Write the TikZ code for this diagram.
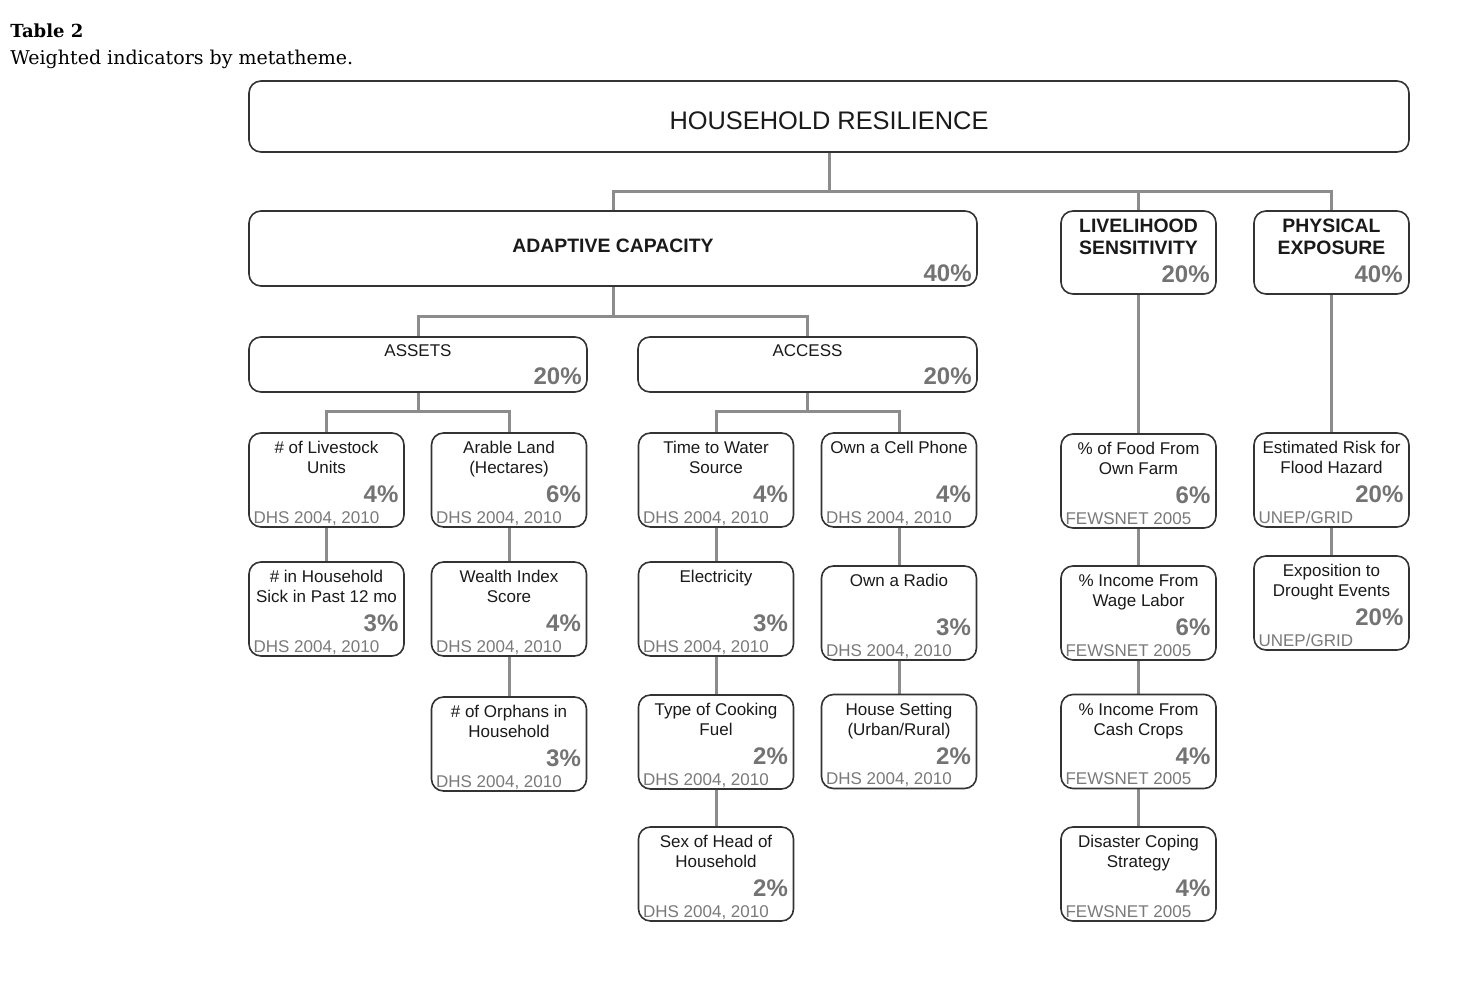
\documentclass[tikz,border=0pt]{standalone}
\usepackage{fontspec}
\setmainfont{Liberation Sans}
\newfontfamily\capfont{DejaVu Serif}
\usetikzlibrary{backgrounds}
\definecolor{boxc}{HTML}{333333}
\definecolor{connc}{HTML}{8C8C8C}
\definecolor{txtc}{HTML}{1A1A1A}
\definecolor{pctc}{HTML}{737373}
\definecolor{srcc}{HTML}{7A7A7A}
\tikzset{
  box/.style={draw=boxc, line width=0.8pt, rounded corners=6pt, fill=white, inner sep=0pt},
  sbox/.style={box, minimum width=77.5pt, minimum height=47pt},
  conn/.style={draw=connc, line width=1.5pt},
  ttl/.style={font=\fontsize{8.5}{10}\selectfont, text=txtc, anchor=base, inner sep=0pt},
  hdr/.style={font=\bfseries\fontsize{9.7}{11}\selectfont, text=txtc, anchor=base, inner sep=0pt},
  pct/.style={font=\bfseries\fontsize{12}{14}\selectfont, text=pctc, anchor=base east, inner sep=0pt},
  src/.style={font=\fontsize{8.5}{10}\selectfont, text=srcc, anchor=base west, inner sep=0pt},
}
% indicator box: name, cx, cy, line1, line2, pct, source
\newcommand\indbox[7]{%
  \node[sbox] (#1) at (#2,#3) {};
  \node[ttl] (#1-a) at ([yshift=-10.8pt]#1.north) {#4};
  \if\relax\detokenize{#5}\relax\else
    \node[ttl] (#1-b) at ([yshift=-20.8pt]#1.north) {#5};
  \fi
  \node[pct] (#1-p) at ([xshift=-3pt,yshift=12.5pt]#1.south east) {#6};
  \node[src] (#1-s) at ([xshift=2.5pt,yshift=2.2pt]#1.south west) {#7};
}
\begin{document}
\begin{tikzpicture}[x=0.5pt,y=-0.5pt]
\useasboundingbox (0,0) rectangle (1480,994);
% caption
\node[anchor=base west, inner sep=0pt, font=\capfont\bfseries\fontsize{9}{11}\selectfont] (cap1) at (10,38) {Table 2};
\node[anchor=base west, inner sep=0pt, font=\capfont\fontsize{9.5}{11}\selectfont] (cap2) at (10,65) {Weighted indicators by metatheme.};

% top
\node[box, minimum width=580pt, minimum height=35.5pt] (HR) at (829,116.5) {};
\node[anchor=base, inner sep=0pt, text=txtc, font=\fontsize{12.7}{14}\selectfont] (HR-t) at (829,130) {HOUSEHOLD RESILIENCE};

% metathemes
\node[box, minimum width=364pt, minimum height=37.5pt] (AC) at (613,248.5) {};
\node[hdr] (AC-t) at (613,253) {ADAPTIVE CAPACITY};
\node[pct] (AC-p) at (972,282) {40\%};

\node[box, minimum width=77.5pt, minimum height=41.5pt] (LS) at (1138.5,252.5) {};
\node[hdr] (LS-a) at (1138.5,233) {LIVELIHOOD};
\node[hdr] (LS-b) at (1138.5,255) {SENSITIVITY};
\node[pct] (LS-p) at (1210,283) {20\%};

\node[box, minimum width=77.5pt, minimum height=41.5pt] (PE) at (1331.5,252.5) {};
\node[hdr] (PE-a) at (1331.5,233) {PHYSICAL};
\node[hdr] (PE-b) at (1331.5,255) {EXPOSURE};
\node[pct] (PE-p) at (1403,283) {40\%};

% themes
\node[box, minimum width=169pt, minimum height=27.5pt] (AS) at (418,364.5) {};
\node[ttl] (AS-t) at (418,357) {ASSETS};
\node[pct] (AS-p) at (582,385) {20\%};

\node[box, minimum width=169.5pt, minimum height=27.5pt] (ACC) at (807.5,364.5) {};
\node[ttl] (ACC-t) at (807.5,357) {ACCESS};
\node[pct] (ACC-p) at (972,385) {20\%};

% indicators
\indbox{live}{326.5}{480}{\# of Livestock}{Units}{4\%}{DHS 2004, 2010}
\indbox{sick}{326.5}{609}{\# in Household}{Sick in Past 12 mo}{3\%}{DHS 2004, 2010}
\indbox{land}{509}{480}{Arable Land}{(Hectares)}{6\%}{DHS 2004, 2010}
\indbox{wealth}{509}{609}{Wealth Index}{Score}{4\%}{DHS 2004, 2010}
\indbox{orph}{509}{744}{\# of Orphans in}{Household}{3\%}{DHS 2004, 2010}
\indbox{water}{716}{480}{Time to Water}{Source}{4\%}{DHS 2004, 2010}
\indbox{elec}{716}{609}{Electricity}{}{3\%}{DHS 2004, 2010}
\indbox{cook}{716}{742}{Type of Cooking}{Fuel}{2\%}{DHS 2004, 2010}
\indbox{sex}{716}{874}{Sex of Head of}{Household}{2\%}{DHS 2004, 2010}
\indbox{cell}{899}{480}{Own a Cell Phone}{}{4\%}{DHS 2004, 2010}
\indbox{radio}{899}{613}{Own a Radio}{}{3\%}{DHS 2004, 2010}
\indbox{house}{899}{741.5}{House Setting}{(Urban/Rural)}{2\%}{DHS 2004, 2010}
\indbox{food}{1138.5}{481}{\% of Food From}{Own Farm}{6\%}{FEWSNET 2005}
\indbox{wage}{1138.5}{613}{\% Income From}{Wage Labor}{6\%}{FEWSNET 2005}
\indbox{cash}{1138.5}{741.5}{\% Income From}{Cash Crops}{4\%}{FEWSNET 2005}
\indbox{dis}{1138.5}{874}{Disaster Coping}{Strategy}{4\%}{FEWSNET 2005}
\indbox{flood}{1331.5}{480}{Estimated Risk for}{Flood Hazard}{20\%}{UNEP/GRID}
\indbox{drought}{1331.5}{603}{Exposition to}{Drought Events}{20\%}{UNEP/GRID}

% junctions
\coordinate (j0) at (829,192);
\coordinate (j1) at (613,317);
\coordinate (j2) at (418,412);
\coordinate (j3) at (807.5,412);

% connectors
\begin{scope}[on background layer]
\draw[conn] (HR.south) -- (j0);
\draw[conn] (AC.north) |- (j0) -| (PE.north);
\draw[conn] (LS.north) -- (LS.north |- j0);
\draw[conn] (AC.south) -- (j1);
\draw[conn] (AS.north) |- (j1) -| (ACC.north);
\draw[conn] (AS.south) -- (j2);
\draw[conn] (live.north) |- (j2) -| (land.north);
\draw[conn] (ACC.south) -- (j3);
\draw[conn] (water.north) |- (j3) -| (cell.north);
\draw[conn] (live.south) -- (sick.north);
\draw[conn] (land.south) -- (wealth.north);
\draw[conn] (wealth.south) -- (orph.north);
\draw[conn] (water.south) -- (elec.north);
\draw[conn] (elec.south) -- (cook.north);
\draw[conn] (cook.south) -- (sex.north);
\draw[conn] (cell.south) -- (radio.north);
\draw[conn] (radio.south) -- (house.north);
\draw[conn] (LS.south) -- (food.north);
\draw[conn] (food.south) -- (wage.north);
\draw[conn] (wage.south) -- (cash.north);
\draw[conn] (cash.south) -- (dis.north);
\draw[conn] (PE.south) -- (flood.north);
\draw[conn] (flood.south) -- (drought.north);
\end{scope}
\end{tikzpicture}
\end{document}
